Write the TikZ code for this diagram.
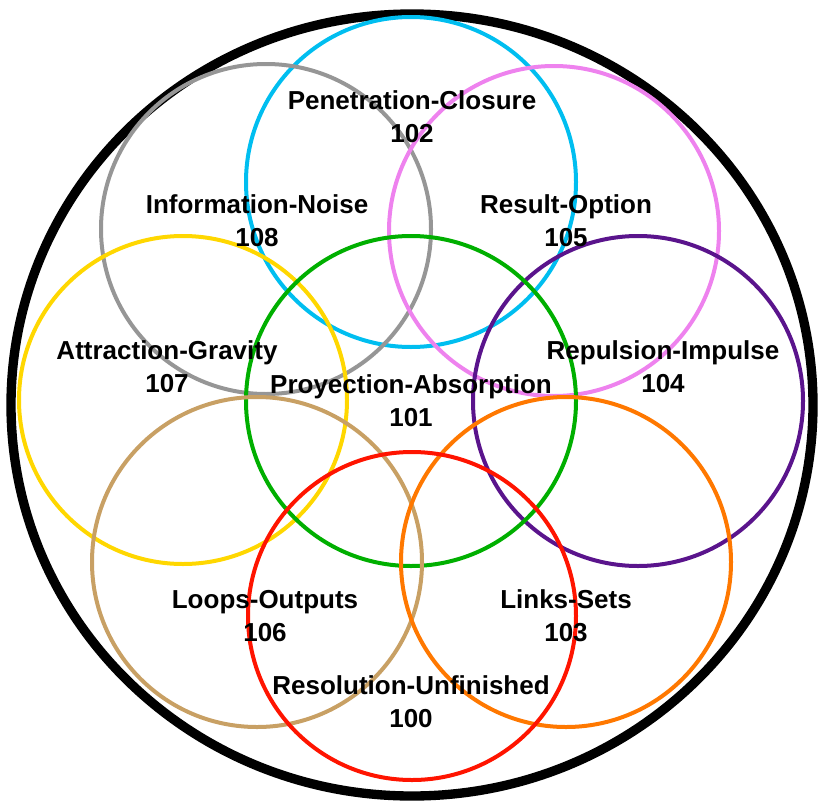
\documentclass[tikz,border=0pt]{standalone}
\usepackage{fontspec}
\setmainfont{Liberation Sans}
\begin{document}
\begin{tikzpicture}[x=0.75pt,y=-0.75pt,
  ring/.style={line width=3pt},
  lab/.style={font=\fontsize{19.5}{24.5}\selectfont\bfseries,align=center}]
\useasboundingbox (0,0) rectangle (824,810);
\draw[line width=7pt] (412,405) ellipse [x radius=401, y radius=391];
\draw[ring,color={rgb,255:red,0;green,190;blue,240}] (411,182) circle (165);
\draw[ring,color={rgb,255:red,150;green,150;blue,150}] (266,229) circle (165);
\draw[ring,color={rgb,255:red,238;green,130;blue,238}] (554,231) circle (165);
\draw[ring,color={rgb,255:red,255;green,215;blue,0}] (183,400) circle (164);
\draw[ring,color={rgb,255:red,90;green,20;blue,140}] (638,401) circle (165);
\draw[ring,color={rgb,255:red,0;green,175;blue,0}] (411,401) circle (165);
\draw[ring,color={rgb,255:red,200;green,160;blue,100}] (257,562) circle (165);
\draw[ring,color={rgb,255:red,255;green,120;blue,0}] (566,562) circle (165);
\draw[ring,color={rgb,255:red,255;green,20;blue,0}] (412,616) circle (164);
\node[lab] (n102) at (412,117) {Penetration-Closure\\102};
\node[lab] (n108) at (257,221) {Information-Noise\\108};
\node[lab] (n105) at (566,221) {Result-Option\\105};
\node[lab] (n107) at (167,367) {Attraction-Gravity\\107};
\node[lab] (n101) at (411,401) {Proyection-Absorption\\101};
\node[lab] (n104) at (663,367) {Repulsion-Impulse\\104};
\node[lab] (n106) at (265,616) {Loops-Outputs\\106};
\node[lab] (n103) at (566,616) {Links-Sets\\103};
\node[lab] (n100) at (411,702) {Resolution-Unfinished\\100};
\end{tikzpicture}
\end{document}
